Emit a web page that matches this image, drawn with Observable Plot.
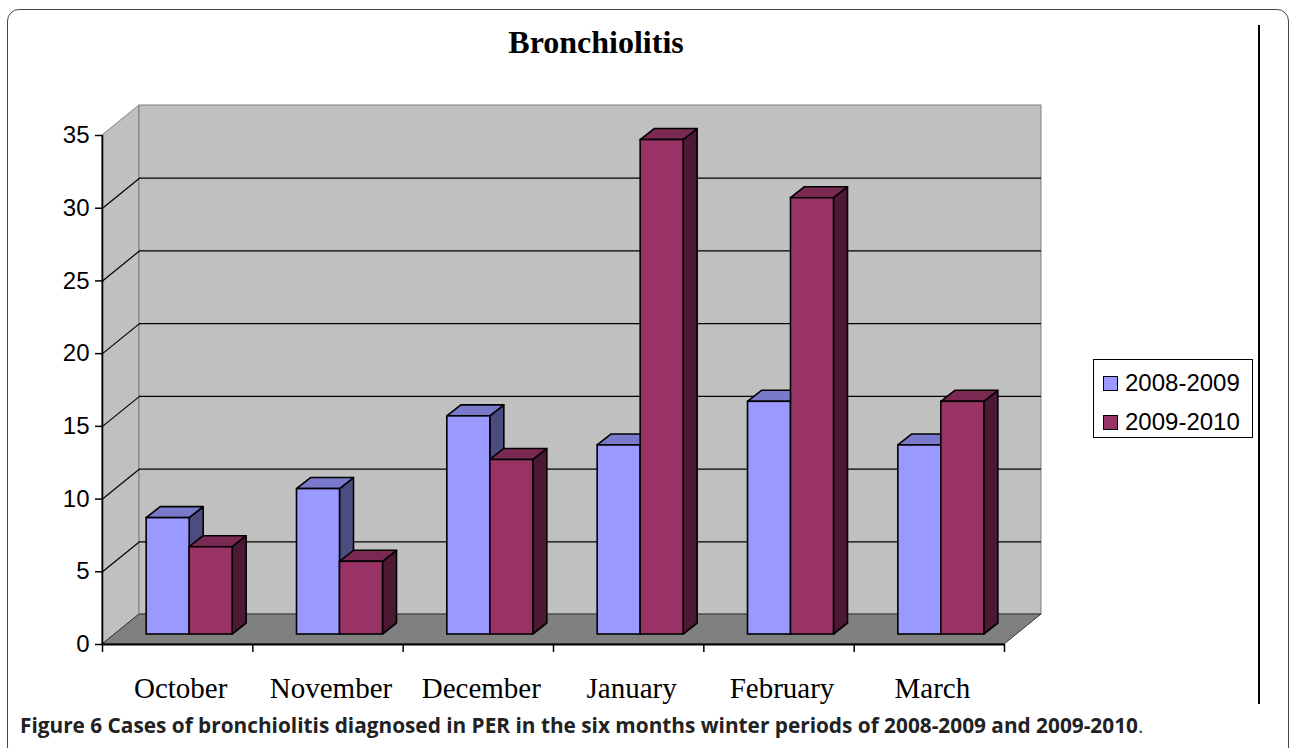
<!DOCTYPE html>
<html>
<head>
<meta charset="utf-8">
<script src="https://cdn.jsdelivr.net/npm/d3@7"></script>
<script src="https://cdn.jsdelivr.net/npm/@observablehq/plot@0.6"></script>
<style>
  html, body { margin: 0; padding: 0; background: #fff; }
  #wrap { position: relative; width: 1292px; height: 748px; overflow: hidden; background: #fff; }
  #chart { position: absolute; left: 0; top: 0; }
  #chart svg { display: block; }
  .frame { position: absolute; left: 7px; top: 9px; width: 1282px; height: 750px; border: 1px solid #444; border-radius: 12px; box-sizing: border-box; pointer-events: none; }
  .vline { position: absolute; left: 1258px; top: 25px; width: 2px; height: 679px; background: #000; }
  .title { position: absolute; left: 0; top: 26px; width: 1192px; text-align: center; font-family: "Liberation Serif", "Times New Roman", serif; font-weight: bold; font-size: 32px; line-height: 32px; color: #000; white-space: nowrap; }
  .legend { position: absolute; left: 1093px; top: 359px; width: 160px; height: 79px; border: 1px solid #000; box-sizing: border-box; background: #fff; }
  .legend .row { position: absolute; left: 0; height: 24px; font-family: "Liberation Sans", Arial, sans-serif; font-size: 24px; line-height: 24px; color: #000; white-space: nowrap; }
  .legend .sw { position: absolute; width: 15px; height: 15px; border: 1px solid #000; box-sizing: border-box; }
  .legend .lbl { position: absolute; left: 31px; top: 0; }
  .caption { position: absolute; left: 20px; top: 712px; font-family: "Open Sans", "Noto Sans", sans-serif; font-weight: bold; font-size: 20.8px; line-height: 26px; color: #222; white-space: nowrap; }
  .caption .dot { font-weight: normal; color: #444; }
</style>
</head>
<body>
<div id="wrap">
  <div id="chart"></div>
  <div class="vline"></div>
  <div class="title" id="title"></div>
  <div class="legend" id="legend"></div>
  <div class="caption" id="caption"></div>
  <div class="frame"></div>
</div>
<script>
// ---- data ----
const months = ["October", "November", "December", "January", "February", "March"];
const series = ["2008-2009", "2009-2010"];
const cases0809 = [8, 10, 15, 13, 16, 13];
const cases0910 = [6, 5, 12, 34, 30, 16];
const yTicks = [0, 5, 10, 15, 20, 25, 30, 35];
const titleText = "Bronchiolitis";
const captionText = "Figure 6 Cases of bronchiolitis diagnosed in PER in the six months winter periods of 2008-2009 and 2009-2010";

// ---- styles ----
const frontColors = ["#9999FF", "#993366"];
const topColors = ["#7A7ACC", "#7A2952"];
const sideColors = ["#4C4C80", "#4C1933"];

// ---- layout ----
const W = 1292, H = 704;
const mL = 102, mR = 288, mT = 135, mB = 60;
const xDom = [0, months.length], yDom = [0, 35];
const kx = (xDom[1] - xDom[0]) / (W - mL - mR);
const ky = (yDom[1] - yDom[0]) / (H - mT - mB);
const px = p => p * kx, py = p => p * ky;
const wallX = px(37), wallY = py(30);
const barOX = px(12), barOY = py(10);
const depX = px(14), depY = py(11);
const barW = px(43);

const valuesBySeries = [cases0809, cases0910];
const bars = [];
months.forEach((m, c) => {
  valuesBySeries.forEach((vals, s) => {
    const x1 = c + 0.5 + (s - 1) * barW + barOX;
    bars.push({id: m + s, month: m, s, series: series[s], value: vals[c],
      x1, x2: x1 + barW, y1: barOY, y2: vals[c] + barOY});
  });
});
const topPts = bars.flatMap(b => [
  {id: b.id, s: b.s, x: b.x1, y1: b.y2, y2: b.y2},
  {id: b.id, s: b.s, x: b.x1 + depX, y1: b.y2, y2: b.y2 + depY},
  {id: b.id, s: b.s, x: b.x2, y1: b.y2, y2: b.y2 + depY},
  {id: b.id, s: b.s, x: b.x2 + depX, y1: b.y2 + depY, y2: b.y2 + depY}
]);
const sidePts = bars.flatMap(b => [
  {id: b.id, s: b.s, x: b.x2, y1: b.y1, y2: b.y2},
  {id: b.id, s: b.s, x: b.x2 + depX, y1: b.y1 + depY, y2: b.y2 + depY}
]);

const leftWall = [
  {x: xDom[0], y1: yDom[0], y2: yDom[1]},
  {x: xDom[0] + wallX, y1: yDom[0] + wallY, y2: yDom[1] + wallY}
];
const floor = [
  {x: xDom[0], y1: 0, y2: 0},
  {x: xDom[0] + wallX, y1: 0, y2: wallY},
  {x: xDom[1], y1: 0, y2: wallY},
  {x: xDom[1] + wallX, y1: wallY, y2: wallY}
];
const backWall = [{x1: xDom[0] + wallX, x2: xDom[1] + wallX, y1: yDom[0] + wallY, y2: yDom[1] + wallY}];
const inner = yTicks.slice(1, -1);

const barMarks = [0, 1].flatMap(s => [
  Plot.area(sidePts.filter(d => d.s === s), {x1: "x", y1: "y1", y2: "y2", z: "id", fill: sideColors[s], stroke: "#000", strokeWidth: 1.6, strokeLinejoin: "round"}),
  Plot.area(topPts.filter(d => d.s === s), {x1: "x", y1: "y1", y2: "y2", z: "id", fill: topColors[s], stroke: "#000", strokeWidth: 1.6, strokeLinejoin: "round"}),
  Plot.rect(bars.filter(d => d.s === s), {x1: "x1", x2: "x2", y1: "y1", y2: "y2", fill: frontColors[s], stroke: "#000", strokeWidth: 1.6})
]);

const chart = Plot.plot({
  width: W, height: H,
  marginLeft: mL, marginRight: mR, marginTop: mT, marginBottom: mB,
  x: {domain: xDom},
  y: {domain: yDom},
  style: {background: "none", fontFamily: "'Liberation Sans', Arial, sans-serif", fontSize: "24px", color: "#000"},
  marks: [
    Plot.area(leftWall, {x1: "x", y1: "y1", y2: "y2", fill: "#C0C0C0", stroke: "#808080", strokeWidth: 1}),
    Plot.rect(backWall, {x1: "x1", x2: "x2", y1: "y1", y2: "y2", fill: "#C0C0C0", stroke: "#808080", strokeWidth: 1}),
    Plot.area(floor, {x1: "x", y1: "y1", y2: "y2", fill: "#808080", stroke: "#333", strokeWidth: 1}),
    Plot.ruleY(inner, {y: d => d + wallY, x1: xDom[0] + wallX, x2: xDom[1] + wallX, stroke: "#000", strokeWidth: 1.2}),
    Plot.link(inner, {x1: xDom[0], y1: d => d, x2: xDom[0] + wallX, y2: d => d + wallY, stroke: "#000", strokeWidth: 1.2}),
    ...barMarks,
    Plot.ruleX([xDom[0]], {y1: yDom[0], y2: yDom[1], stroke: "#000", strokeWidth: 1.6}),
    Plot.ruleY([yDom[0]], {x1: xDom[0], x2: xDom[1], stroke: "#000", strokeWidth: 2}),
    Plot.axisY({ticks: yTicks, tickSize: 7, tickPadding: 6, fontSize: 24, stroke: "#000", strokeWidth: 1.5, tickFormat: d => String(d)}),
    Plot.axisX({ticks: d3.range(months.length + 1), tickSize: 8, tickFormat: () => "", stroke: "#000", strokeWidth: 1.5}),
    Plot.text(months, {x: (d, i) => i + 0.5, y: 0, dy: 44, dx: 3, fontSize: 29, fontFamily: "'Liberation Serif', 'Times New Roman', serif", fill: "#000"})
  ]
});
document.getElementById("chart").appendChild(chart);

document.getElementById("title").textContent = titleText;
const cap = document.getElementById("caption");
cap.textContent = captionText;
const dot = document.createElement("span");
dot.className = "dot";
dot.textContent = ".";
cap.appendChild(dot);

const legend = document.getElementById("legend");
series.forEach((name, s) => {
  const row = document.createElement("div");
  row.className = "row";
  row.style.top = (11 + s * 39) + "px";
  row.style.left = "0px";
  row.style.width = "158px";
  const sw = document.createElement("div");
  sw.className = "sw";
  sw.style.left = "9px";
  sw.style.top = "5px";
  sw.style.background = frontColors[s];
  const lbl = document.createElement("div");
  lbl.className = "lbl";
  lbl.textContent = name;
  row.appendChild(sw);
  row.appendChild(lbl);
  legend.appendChild(row);
});
</script>
</body>
</html>
